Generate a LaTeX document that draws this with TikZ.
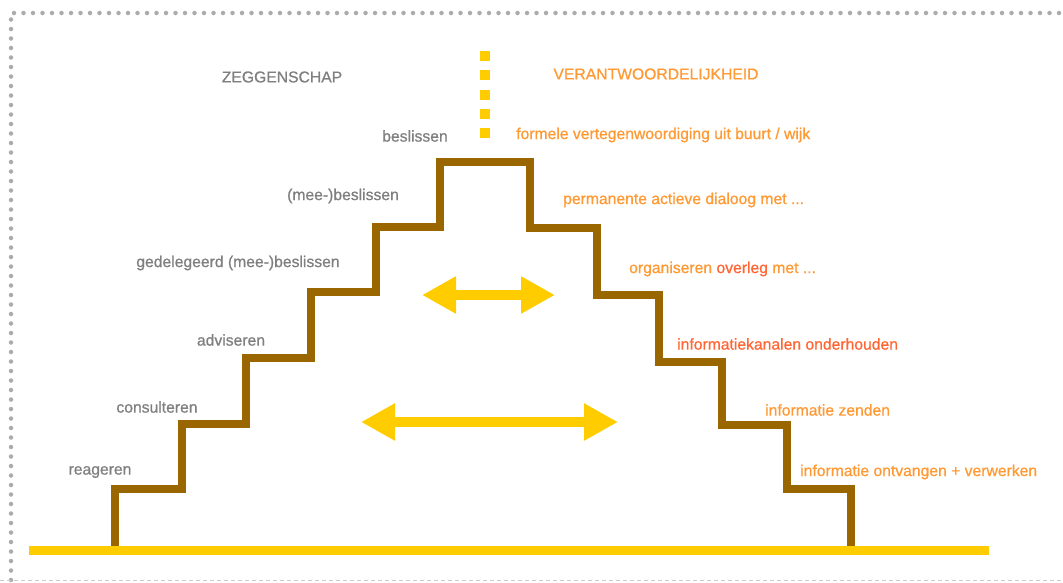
\documentclass[tikz,border=0pt]{standalone}
\usepackage{fontspec}
\setsansfont{Liberation Sans}[FakeBold=0.8]
\usetikzlibrary{arrows.meta}

\definecolor{stairbrown}{HTML}{996600}
\definecolor{gold}{HTML}{FFCC00}
\definecolor{labelgray}{HTML}{7F7F7F}
\definecolor{tintorange}{HTML}{FF9933}
\definecolor{tintred}{HTML}{FF6633}

\begin{document}
\begin{tikzpicture}[
  x=1pt, y=-1pt,
  font=\sffamily\fontsize{15.7}{18}\selectfont,
  say/.style={text=labelgray, inner sep=0pt, anchor=center},
  duty/.style={text=tintorange, inner sep=0pt, anchor=west},
  stair/.style={draw=stairbrown, line width=8pt, line join=miter},
  ground/.style={draw=gold, line width=9pt},
  swing/.style={{Triangle[length=34pt,width=35pt]}-{Triangle[length=34pt,width=35pt]}, draw=gold, fill=gold, line width=10pt}
]

\useasboundingbox (0,0) rectangle (1063,582);

% frame
\draw[black!33, line width=4.5pt, line cap=round, dash pattern=on 0pt off 9.5pt]
  (11,580) -- (11,13) -- (1063,13);
\draw[black!20, line width=1pt, dash pattern=on 4pt off 3pt] (0,580.5) -- (1063,580.5);

% divider
\draw[gold, line width=10pt, dash pattern=on 10pt off 9.25pt] (485,51) -- (485,138);

% headings
\node[say] (zeggenschap) at (282,77) {ZEGGENSCHAP};
\node[duty, anchor=center] (verantwoordelijkheid) at (656,74) {VERANTWOORDELIJKHEID};

% the stairs
\draw[stair] (115,549) |- (182,489) |- (246,424) |- (311,358) |- (376,292)
  |- (440,227) |- (530,162) |- (597,228) |- (659,295) |- (722,362)
  |- (787,425) |- (851,489) -- (851,549);

\draw[ground] (29,550) -- (989,550);

% left steps
\node[say] (beslissen) at (415,136) {beslissen};
\node[say] (meebeslissen) at (343,196) {(mee-)beslissen};
\node[say] (gedelegeerd) at (238,263) {gedelegeerd (mee-)beslissen};
\node[say] (adviseren) at (231,340) {adviseren};
\node[say] (consulteren) at (157,407) {consulteren};
\node[say] (reageren) at (100,472) {reageren};

% right steps
\node[duty] (formeel) at (516,135) {formele vertegenwoordiging uit buurt / wijk};
\node[duty] (dialoog) at (563,200) {permanente actieve dialoog met ...};
\node[duty] (overleg) at (629,269) {organiseren \textcolor{tintred}{overleg} met ...};
\node[duty, text=tintred] (kanalen) at (677,344) {informatiekanalen onderhouden};
\node[duty] (zenden) at (765,410) {informatie zenden};
\node[duty] (ontvangen) at (800,472) {informatie ontvangen + verwerken};

% exchange arrows
\coordinate (smallL) at (422,295);
\coordinate (smallR) at (555,295);
\coordinate (bigL) at (361,422);
\coordinate (bigR) at (618,422);
\draw[swing] (smallL) -- (smallR);
\draw[swing] (bigL) -- (bigR);

\end{tikzpicture}
\end{document}
